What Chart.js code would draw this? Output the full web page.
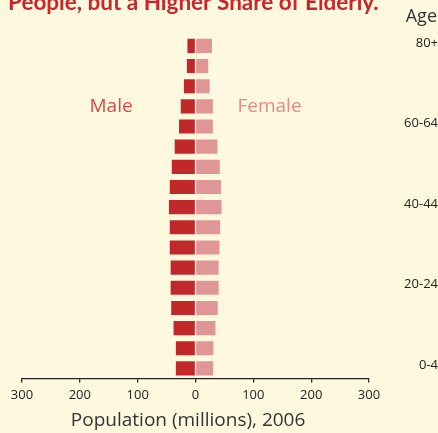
<!DOCTYPE html>
<html>
<head>
<meta charset="utf-8">
<script src="https://cdn.jsdelivr.net/npm/chart.js@4.4.1/dist/chart.umd.min.js"></script>
<style>
  html, body { margin: 0; padding: 0; background: #fef9de; }
  #wrap { width: 438px; height: 433px; position: relative; }
</style>
</head>
<body>
<div id="wrap"><canvas id="pyramid"></canvas></div>
<script>
// age groups, youngest first (drawn bottom-up)
const ageGroups = ['0-4', '5-9', '10-14', '15-19', '20-24', '25-29', '30-34', '35-39', '40-44',
  '45-49', '50-54', '55-59', '60-64', '65-69', '70-74', '75-79', '80+'];
// population in millions
const maleValues = [34, 34, 38, 42, 43, 43, 44.5, 44.5, 46, 44.5, 41, 36, 28.5, 25.5, 20, 15, 14];
const femaleValues = [30.5, 31, 34.5, 38.5, 40, 40, 41.5, 42.5, 45, 44, 42, 38, 30, 30, 24.5, 22, 28.5];
const xTicks = [-300, -200, -100, 0, 100, 200, 300];

const FONT = '"Open Sans", sans-serif';

// title, Age header and Male/Female labels
const annotations = {
  id: 'annotations',
  afterDraw(chart) {
    const ctx = chart.ctx;
    const x = chart.scales.x, y = chart.scales.y;
    ctx.save();
    ctx.textBaseline = 'alphabetic';

    ctx.font = 'bold 22.5px Lato, sans-serif';
    ctx.fillStyle = '#c8262c';
    ctx.textAlign = 'left';
    ctx.fillText('People, but a Higher Share of Elderly.', 8, 10);

    ctx.font = '18px ' + FONT;
    ctx.fillStyle = '#333';
    ctx.textAlign = 'right';
    ctx.fillText('Age', 437, 22);

    const row = y.getPixelForValue(ageGroups.indexOf('65-69'));
    ctx.font = '19px ' + FONT;
    ctx.textAlign = 'center';
    ctx.textBaseline = 'middle';
    ctx.fillStyle = '#d9474b';
    ctx.fillText('Male', x.getPixelForValue(-146), row);
    ctx.fillStyle = '#e8898d';
    ctx.fillText('Female', x.getPixelForValue(128), row);
    ctx.restore();
  }
};

new Chart(document.getElementById('pyramid'), {
  type: 'bar',
  data: {
    labels: ageGroups,
    datasets: [
      { label: 'Male', data: maleValues.map(v => -v), backgroundColor: '#c0282a' },
      { label: 'Female', data: femaleValues, backgroundColor: '#e09597' }
    ]
  },
  options: {
    indexAxis: 'y',
    responsive: true, maintainAspectRatio: false,
    animation: false,
    layout: { padding: { left: 22, top: 34, right: 0, bottom: 0 } },
    datasets: { bar: { categoryPercentage: 1, barPercentage: 0.7 } },
    plugins: { legend: { display: false }, tooltip: { enabled: false } },
    scales: {
      x: {
        stacked: true,
        min: -300, max: 300,
        afterBuildTicks: axis => { axis.ticks = xTicks.map(v => ({ value: v })); },
        afterFit: axis => { axis.height = 54.5; },
        ticks: { callback: v => Math.abs(v), color: '#222', padding: 5, font: { family: FONT, size: 13 } },
        grid: { drawOnChartArea: false, tickLength: 4, color: '#222', lineWidth: 1.3 },
        border: { color: '#222', width: 1.3 },
        // trailing spaces nudge the centred title a little left, as in the original
        title: { display: true, text: 'Population (millions), 2006   ', color: '#333',
          font: { family: FONT, size: 19 }, padding: { top: 0, bottom: 1 } }
      },
      y: {
        stacked: true,
        position: 'right',
        reverse: true,
        afterFit: axis => { axis.width = 69; },
        grid: { display: false },
        border: { display: false },
        ticks: {
          autoSkip: false, crossAlign: 'far', padding: 28, labelOffset: -3,
          color: '#222', font: { family: FONT, size: 13 },
          callback: (v, i) => i % 4 === 0 ? ageGroups[i] : ''
        }
      }
    }
  },
  plugins: [annotations]
});
</script>
</body>
</html>
